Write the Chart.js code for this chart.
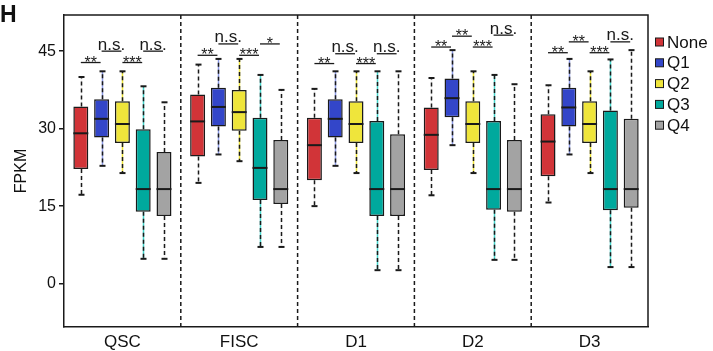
<!DOCTYPE html>
<html><head><meta charset="utf-8">
<script src="https://cdn.jsdelivr.net/npm/chart.js@4.4.0/dist/chart.umd.min.js"></script>
<style>html,body{margin:0;padding:0;background:#fff}</style>
</head><body>
<canvas id="c" width="713" height="351"></canvas>
<script>
// ---- data ----
const categories = ["QSC", "FISC", "D1", "D2", "D3"];
const seriesNames = ["None", "Q1", "Q2", "Q3", "Q4"];
// each entry: [min, q1, median, q3, max] per category
const none = [[17.2, 22.2, 29.1, 34.3, 40.0], [19.5, 24.6, 31.4, 36.6, 42.4], [15.0, 20.0, 26.8, 32.1, 37.7], [17.1, 22.0, 28.8, 34.1, 39.8], [15.7, 20.8, 27.5, 32.8, 38.4]];
const q1 = [[22.8, 28.3, 31.9, 35.7, 41.1], [25.0, 30.4, 34.2, 37.9, 43.5], [22.8, 28.3, 31.9, 35.7, 41.1], [26.8, 32.2, 35.9, 39.7, 45.2], [25.0, 30.4, 34.1, 37.9, 43.5]];
const q2 = [[21.4, 27.2, 30.9, 35.3, 41.1], [23.7, 29.6, 33.2, 37.5, 43.5], [21.4, 27.2, 30.9, 35.3, 41.1], [21.4, 27.2, 30.9, 35.3, 41.1], [21.4, 27.2, 30.9, 35.3, 41.1]];
const q3 = [[4.8, 13.9, 18.3, 29.9, 38.2], [7.1, 16.2, 22.4, 32.1, 40.4], [2.6, 13.1, 18.3, 31.5, 41.1], [4.6, 14.3, 18.3, 31.5, 40.4], [3.2, 14.2, 18.3, 33.5, 43.4]];
const q4 = [[4.8, 13.1, 18.3, 25.5, 35.1], [7.1, 15.4, 18.3, 27.8, 37.5], [2.6, 13.1, 18.3, 28.9, 41.1], [4.6, 13.9, 18.3, 27.8, 38.6], [3.2, 14.7, 18.3, 31.9, 45.2]];
const yTicks = [0, 15, 30, 45];
// significance between adjacent series (None-Q1, Q1-Q2, Q2-Q3, Q3-Q4) per category
const sigText = [["**", "n.s.", "***", "n.s."], ["**", "n.s.", "***", "*"], ["**", "n.s.", "***", "n.s."], ["**", "**", "***", "n.s."], ["**", "**", "***", "n.s."]];
const sigY = [[42.8, 45.0, 42.8, 45.0], [44.2, 46.4, 44.2, 46.4], [42.6, 44.5, 42.6, 44.5], [45.8, 47.9, 45.8, 48.1], [44.7, 46.8, 44.7, 46.8]];
const panelLetter = "H";
const yTitle = "FPKM";

// ---- styles ----
const allStats = [none, q1, q2, q3, q4];
const fills = ["#D13438", "#3346C9", "#EFE53B", "#00A99D", "#A3A3A3"];
const whiskerUnder = ["#F2F2F2", "#8C9AE6", "#EFE53B", "#45D6CC", "#F2F2F2"];
const FONT = "'Liberation Sans', Arial, sans-serif";
Chart.defaults.font.family = FONT;
Chart.defaults.color = "#111";

const datasets = allStats.map((st, i) => ({
  label: seriesNames[i],
  data: st.map(d => [d[1], d[3]]),
  stats: st,
  backgroundColor: fills[i],
  borderColor: "#1a1a1a",
  borderWidth: 1.5,
  borderSkipped: false,
  whiskerColor: whiskerUnder[i],
  categoryPercentage: 0.89,
  barPercentage: 0.72
}));

const boxPlugin = {
  id: "boxplot",
  beforeDatasetsDraw(chart) {
    const ctx = chart.ctx, ys = chart.scales.y, xs = chart.scales.x, ca = chart.chartArea;
    ctx.save();
    // group separators
    ctx.strokeStyle = "#1a1a1a"; ctx.lineWidth = 1.5; ctx.setLineDash([4, 3]);
    for (let j = 0; j < categories.length - 1; j++) {
      const xb = (xs.getPixelForValue(j) + xs.getPixelForValue(j + 1)) / 2;
      ctx.beginPath(); ctx.moveTo(xb, ca.top); ctx.lineTo(xb, ca.bottom); ctx.stroke();
    }
    // whiskers
    chart.data.datasets.forEach((ds, i) => {
      const meta = chart.getDatasetMeta(i);
      meta.data.forEach((el, j) => {
        const s = ds.stats[j];
        const x = Math.round(el.x) + 0.5;
        const segs = [[ys.getPixelForValue(s[3]), ys.getPixelForValue(s[4])], [ys.getPixelForValue(s[1]), ys.getPixelForValue(s[0])]];
        segs.forEach(([a, b]) => {
          ctx.setLineDash([]); ctx.strokeStyle = ds.whiskerColor; ctx.lineWidth = 1.5;
          ctx.beginPath(); ctx.moveTo(x, a); ctx.lineTo(x, b); ctx.stroke();
          ctx.setLineDash([4, 3]); ctx.strokeStyle = "#1a1a1a";
          ctx.beginPath(); ctx.moveTo(x, a); ctx.lineTo(x, b); ctx.stroke();
          ctx.setLineDash([]); ctx.lineWidth = 2;
          ctx.beginPath(); ctx.moveTo(x - 3, b); ctx.lineTo(x + 3, b); ctx.stroke();
        });
      });
    });
    ctx.restore();
  },
  afterDatasetsDraw(chart) {
    const ctx = chart.ctx, ys = chart.scales.y, ca = chart.chartArea;
    ctx.save();
    // medians
    ctx.strokeStyle = "#1a1a1a"; ctx.lineWidth = 2;
    chart.data.datasets.forEach((ds, i) => {
      chart.getDatasetMeta(i).data.forEach((el, j) => {
        const ym = ys.getPixelForValue(ds.stats[j][2]);
        ctx.beginPath(); ctx.moveTo(el.x - el.width / 2, ym); ctx.lineTo(el.x + el.width / 2, ym); ctx.stroke();
      });
    });
    // frame top/right
    ctx.lineWidth = 1.5;
    ctx.beginPath(); ctx.moveTo(ca.left, ca.top); ctx.lineTo(ca.right, ca.top); ctx.lineTo(ca.right, ca.bottom); ctx.stroke();
    // significance
    ctx.lineWidth = 1.3; ctx.fillStyle = "#1a1a1a";
    ctx.textAlign = "center";
    sigText.forEach((row, j) => {
      row.forEach((t, k) => {
        const a = chart.getDatasetMeta(k).data[j], b = chart.getDatasetMeta(k + 1).data[j];
        const yl = ys.getPixelForValue(sigY[j][k]);
        const x1 = a.x, x2 = b.x - 1;
        ctx.beginPath(); ctx.moveTo(x1, yl); ctx.lineTo(x2, yl); ctx.stroke();
        if (t === "n.s.") {
          ctx.font = "17px " + FONT; ctx.textBaseline = "alphabetic";
          ctx.fillText(t, (x1 + x2) / 2, yl - 1.5);
        } else {
          ctx.font = "16px " + FONT; ctx.textBaseline = "alphabetic";
          ctx.fillText(t, (x1 + x2) / 2, yl + 5);
        }
      });
    });
    // legend
    ctx.textAlign = "left"; ctx.textBaseline = "middle"; ctx.font = "17px " + FONT;
    seriesNames.forEach((n, i) => {
      const cy = 42 + i * 20.8;
      ctx.fillStyle = fills[i]; ctx.fillRect(655.5, cy - 4, 8, 8);
      ctx.strokeStyle = "#1a1a1a"; ctx.lineWidth = 1; ctx.strokeRect(655.5, cy - 4, 8, 8);
      ctx.fillStyle = "#111"; ctx.fillText(n, 667, cy + 1);
    });
    // panel letter
    ctx.font = "bold 23px " + FONT; ctx.textBaseline = "alphabetic";
    ctx.fillText(panelLetter, 0, 22);
    ctx.restore();
  }
};

new Chart(document.getElementById("c"), {
  type: "bar",
  data: { labels: categories, datasets },
  options: {
    responsive: false, devicePixelRatio: 1, animation: false,
    layout: { padding: { top: 15, right: 65, left: 0, bottom: 0 } },
    plugins: { legend: { display: false }, tooltip: { enabled: false } },
    scales: {
      x: {
        grid: { display: false, drawTicks: false },
        border: { display: true, color: "#1a1a1a", width: 1.5 },
        ticks: { font: { size: 17 }, color: "#111", padding: 5 },
        afterFit(s) { s.height = 24; }
      },
      y: {
        min: -8.4, max: 52,
        afterBuildTicks(s) { s.ticks = yTicks.map(v => ({ value: v })); },
        grid: { display: true, drawOnChartArea: false, drawTicks: true, tickLength: 5, color: "#1a1a1a", lineWidth: 1.5 },
        border: { display: true, color: "#1a1a1a", width: 1.5 },
        ticks: { font: { size: 16 }, color: "#111", padding: 3 },
        title: { display: true, text: yTitle, font: { size: 16 }, color: "#111", padding: { top: 12, bottom: 0 } },
        afterFit(s) { s.width = 64; }
      }
    }
  },
  plugins: [boxPlugin]
});
</script>
</body></html>
